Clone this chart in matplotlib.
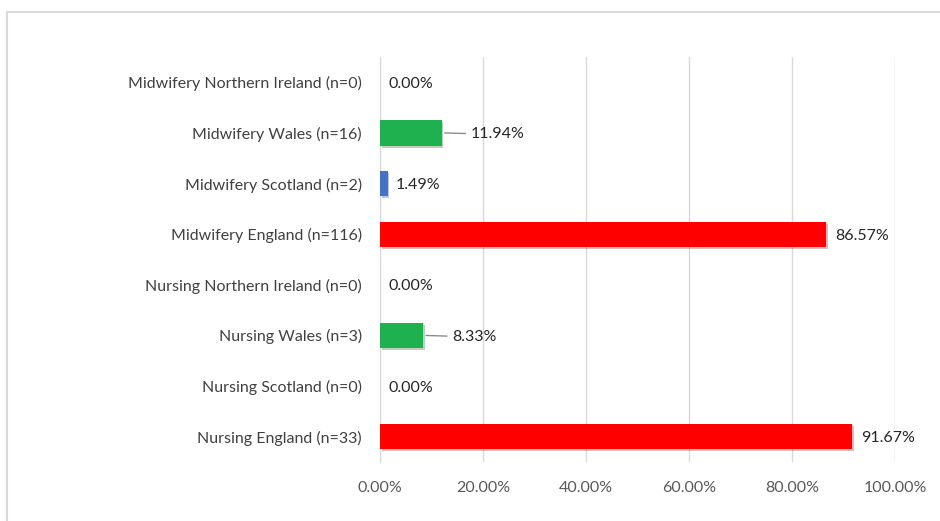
import matplotlib
matplotlib.use("Agg")
import matplotlib.pyplot as plt
import matplotlib.patheffects as pe
from matplotlib.patches import Rectangle

# categories from bottom to top
categories = [
    "Nursing England (n=33)",
    "Nursing Scotland (n=0)",
    "Nursing Wales (n=3)",
    "Nursing Northern Ireland (n=0)",
    "Midwifery England (n=116)",
    "Midwifery Scotland (n=2)",
    "Midwifery Wales (n=16)",
    "Midwifery Northern Ireland (n=0)",
]
values = [91.67, 0.00, 8.33, 0.00, 86.57, 1.49, 11.94, 0.00]
bar_colors = ["#FF0000", "#1FB04F", "#1FB04F", "#1FB04F",
              "#FF0000", "#4472C4", "#1FB04F", "#1FB04F"]
x_ticks = [0, 20, 40, 60, 80, 100]
x_tick_labels = ["0.00%", "20.00%", "40.00%", "60.00%", "80.00%", "100.00%"]
# labels drawn with a leader line
leader = {"Nursing Wales (n=3)", "Midwifery Wales (n=16)"}

plt.rcParams["font.family"] = ["Lato", "DejaVu Sans"]

fig = plt.figure(figsize=(9.4, 5.21), dpi=100)
ax = fig.add_axes([0.4043, 0.1132, 0.5479, 0.7774])

shadow = [pe.SimplePatchShadow(offset=(1.2, -1.5), alpha=0.25), pe.Normal()]
ypos = list(range(len(categories)))
bars = ax.barh(ypos, values, height=0.5, color=bar_colors, zorder=3)
for b, v in zip(bars, values):
    if v > 0:
        b.set_path_effects(shadow)

for y, v, c in zip(ypos, values, categories):
    txt = "{:.2f}%".format(v)
    if c in leader:
        ax.annotate(txt, xy=(v + 0.6, y), xytext=(19, 0), textcoords="offset points",
                    va="center_baseline", ha="left", fontsize=11.5, color="#262626",
                    arrowprops=dict(arrowstyle="-", color="#8c8c8c", lw=1,
                                    shrinkA=2, shrinkB=0))
    else:
        ax.annotate(txt, xy=(v, y), xytext=(6.5 if v > 50 else 6, 0),
                    textcoords="offset points", va="center_baseline", ha="left",
                    fontsize=11.5, color="#262626")

ax.set_xlim(0, 100)
ax.set_ylim(-0.5, len(categories) - 0.5)
ax.set_xticks(x_ticks)
ax.set_xticklabels(x_tick_labels, fontsize=11.5, color="#595959")
ax.set_yticks(ypos)
ax.set_yticklabels(categories, fontsize=11.5, color="#404040", va="center_baseline")
ax.tick_params(axis="x", length=0, pad=14)
ax.tick_params(axis="y", length=0, pad=13)
ax.grid(axis="x", color="#d9d9d9", lw=1, zorder=0)
for s in ["top", "right", "bottom"]:
    ax.spines[s].set_visible(False)
ax.spines["left"].set_color("#d9d9d9")

fig.patches.append(Rectangle((0.0074, -0.05), 1.1, 0.977 + 0.05, transform=fig.transFigure,
                             fill=False, edgecolor="#d9d9d9", lw=1.5))

fig.savefig("out.png", dpi=100)
